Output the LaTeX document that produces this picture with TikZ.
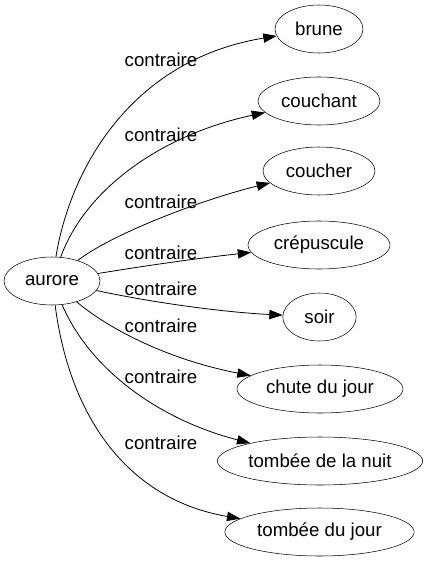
\documentclass[tikz,border=0pt]{standalone}
\usepackage{fontspec}
\setmainfont{Liberation Sans}
\usetikzlibrary{shapes.geometric}
\usetikzlibrary{arrows.meta}

\tikzset{
  word/.style={draw, ellipse, inner sep=0pt, minimum height=36pt, font=\fontsize{14pt}{16pt}\selectfont},
  edge/.style={-{Triangle[length=10pt,width=7pt]}, line width=0.6pt},
  lbl/.style={inner sep=0pt, font=\fontsize{14pt}{16pt}\selectfont}
}

\begin{document}
\begin{tikzpicture}[x=0.75pt, y=-0.75pt]
\useasboundingbox (0,0) rectangle (429,563);
\node[word, minimum width=72pt] (aurore) at (52,281) {aurore};
\node[word, minimum width=66pt] (brune) at (319,29) {brune};
\node[word, minimum width=91.5pt] (couchant) at (319,101) {couchant};
\node[word, minimum width=84pt] (coucher) at (319,171) {coucher};
\node[word, minimum width=106.5pt] (crepuscule) at (319,245) {crépuscule};
\node[word, minimum width=55pt] (soir) at (319.5,317) {soir};
\node[word, minimum width=124.5pt] (chute) at (320,389) {chute du jour};
\node[word, minimum width=154pt] (nuit) at (320,461) {tombée de la nuit};
\node[word, minimum width=142pt] (jour) at (319.5,532) {tombée du jour};

\foreach \q/\ax/\ay/\bx/\by in {brune/70/170/130/60, couchant/85/190/160/135,
  coucher/110/235/200/200, crepuscule/150/265/200/258, soir/150/302/220/312,
  chute/110/330/170/360, nuit/90/370/160/420, jour/70/420/130/500}
{\draw[edge] (aurore) .. controls (\ax,\ay) and (\bx,\by) .. (\q);}

\foreach \n/\y in {1/60, 2/135, 3/202, 4/253, 5/289, 6/326, 7/377, 8/443}
{\node[lbl] (c\n) at (161,\y) {contraire};}
\end{tikzpicture}
\end{document}
